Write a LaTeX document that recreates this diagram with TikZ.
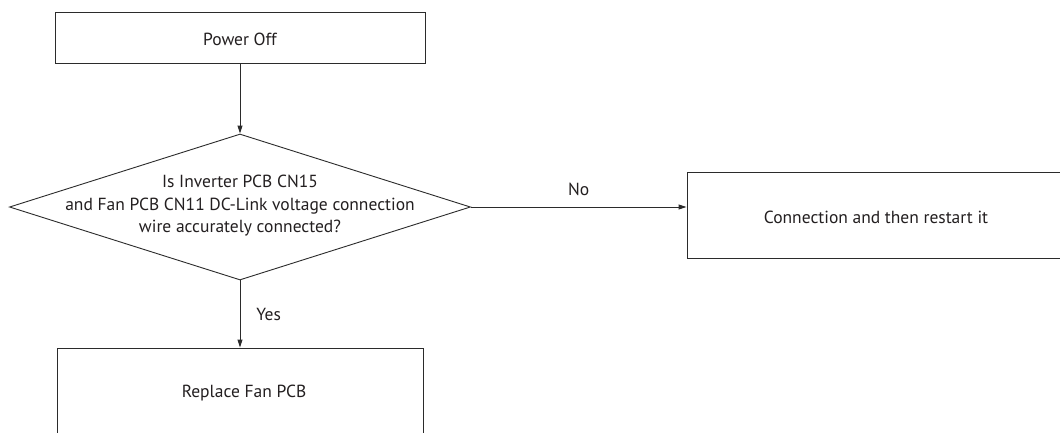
\documentclass[tikz,border=0pt]{standalone}
\usepackage{fontspec}
\setmainfont{PT Sans}
\usetikzlibrary{arrows.meta,shapes.geometric}
\definecolor{lin}{HTML}{2B2B2B}
\definecolor{txt}{HTML}{231F20}
\begin{document}
\begin{tikzpicture}[x=1pt,y=-1pt,
  box/.style={draw=lin,line width=0.9pt,minimum width=#1,inner sep=0pt},
  lbl/.style={text=txt,font=\fontsize{17.5}{22.5}\selectfont,inner sep=0pt},
  arr/.style={draw=lin,line width=0.9pt,-{Triangle[length=8pt,width=5pt]}},
  every node/.style={text=txt}]
\useasboundingbox (0,0) rectangle (1060,432);
\fill[white] (0,0) rectangle (1060,432);
\begin{scope}
\clip (0,0) rectangle (1060,432);
\node[box=370pt,minimum height=51pt] (off) at (240,37.5) {};
\node[lbl] (offt) at (240,39) {Power Off};
\node[diamond,draw=lin,line width=0.9pt,minimum width=461pt,minimum height=146pt,inner sep=0pt] (dia) at (240,207) {};
\node[lbl,align=center] (diat) at (240,206) {Is Inverter PCB CN15\\and Fan PCB CN11 DC-Link voltage connection\\wire accurately connected?};
\node[box=378pt,minimum height=86pt] (con) at (876,215) {};
\node[lbl] (cont) at (876,217) {Connection and then restart it};
\node[box=366pt,minimum height=88pt] (rep) at (240,392) {};
\node[lbl] (rept) at (244,393) {Replace Fan PCB};
\draw[arr] (off.south) -- (dia.north);
\draw[arr] (dia.east) -- (con.west |- dia.east) node[lbl,midway,above=11pt] (no) {No};
\draw[arr] (dia.south) -- (rep.north) node[lbl,midway,right=16pt] (yes) {Yes};
\end{scope}
\end{tikzpicture}
\end{document}
